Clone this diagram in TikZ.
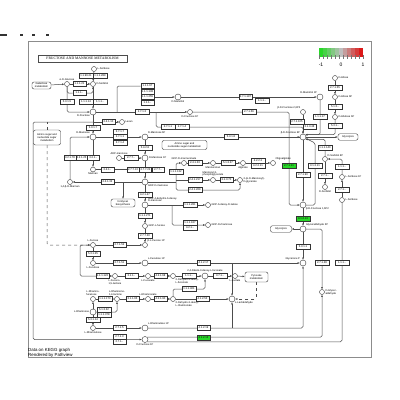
\documentclass[tikz,border=0pt]{standalone}
\usepackage{fontspec}
\setmainfont{Liberation Sans}
\newfontfamily\ttlfont{Liberation Serif}
\usetikzlibrary{positioning}
\usetikzlibrary{arrows.meta}
\usetikzlibrary{backgrounds}
\newcommand\ez{\fontsize{2.7}{3}\selectfont}
\newcommand\cz{\fontsize{2.6}{2.9}\selectfont}
\definecolor{kgreen}{RGB}{40,215,40}
\definecolor{kgrey}{RGB}{190,190,190}
\definecolor{kred}{RGB}{220,25,25}

\begin{document}
\begin{tikzpicture}[x=1pt,y=-1pt,>={Latex[length=2.2pt,width=2pt]},
	enz/.style={draw=black!80,fill=white,inner sep=0pt,minimum width=13.5pt,minimum height=4.8pt,font=\ez,line width=0.4pt},
	enzg/.style={enz,fill=kgreen},
	cpd/.style={circle,draw=black!80,fill=white,inner sep=0pt,minimum size=5pt,line width=0.4pt},
	hub/.style={cpd,minimum size=6pt},
	pbox/.style={draw=black!80,fill=white,rounded corners=2pt,font=\cz,align=center,inner sep=0.5pt,line width=0.4pt},
	lbl/.style={font=\cz,inner sep=0.6pt,align=left},
	rline/.style={draw=black!70,line width=0.5pt,rounded corners=1.5pt}]
	\useasboundingbox (0,0) rectangle (400,400);
	\foreach \a/\b in {0/7,20/23,32/35,46/49}
		\fill[black!80] (\a,34) rectangle (\b,36.2);
	
	\node (ttl) [draw=black!70,line width=0.4pt,minimum width=89pt,minimum height=7pt,inner sep=0pt,font={\ttlfont\fontsize{3.7}{4}\selectfont}] at (82.5,58.5) {FRUCTOSE AND MANNOSE METABOLISM};
	\foreach \i in {0,...,10} {
		\pgfmathtruncatemacro\p{abs(\i-5)*20}
		\ifnum\i<5 \def\cc{kgreen}\else\def\cc{kred}\fi
		\fill[fill=\cc!\p!kgrey] (319+4*\i,48) rectangle ++(4,9);
	}
	\foreach \i in {0,...,11}
		\draw[black!55,line width=0.2pt] (319+4*\i,55) -- ++(0,4);
	\node (lg1) [font=\fontsize{5}{5}\selectfont] at (321,64.5) {-1};
	\node (lg2) [font=\fontsize{5}{5}\selectfont] at (341,64.5) {0};
	\node (lg3) [font=\fontsize{5}{5}\selectfont] at (363,64.5) {1};
	\node (foot) [anchor=north west,align=left,inner sep=0pt,font=\fontsize{4.4}{4.8}\selectfont] at (28,348) {Data on KEGG graph\\Rendered by Pathview};
	
	\node (sorb) [cpd,label={[lbl]right:L-Sorbose}] at (94,69) {};
	\node (glc) [cpd,label={[lbl]above:α-D-Glucose}] at (67,84) {};
	\node (stol) [cpd,label={[lbl]right:D-Sorbitol}] at (93,84) {};
	\node (galm) [pbox,minimum width=19pt,minimum height=7pt] at (41.5,85.5) {Galactose\\metabolism};
	\node (fru) [hub,label={[lbl]below left:D-Fructose}] at (93,112) {};
	\node (levan) [cpd,label={[lbl]right:Levan}] at (122,122) {};
	\node (man) [hub,label={[lbl]above left:D-Mannose}] at (93,137) {};
	\node (mtol) [hub,label={[lbl]below:D-Mannitol}] at (178,97) {};
	\node (fru1p) [cpd,label={[lbl]below:D-Fructose 1P}] at (190,112) {};
	\node (mtol1p) [hub,label={[lbl]above left:D-Mannitol 1P}] at (320,97) {};
	\node (f26p) [cpd,label={[lbl]above left:{β-D-Fructose 2,6P2}}] at (303,112) {};
	\node (f6p) [hub,label={[lbl]above left:β-D-Fructose 6P}] at (303,137) {};
	\node (alo) [cpd,label={[lbl]right:D-Allose}] at (335,78) {};
	\node (alo6p) [cpd,label={[lbl]right:D-Allose 6P}] at (335,97) {};
	\node (alu6p) [cpd,label={[lbl]right:D-Allulose 6P}] at (335,117) {};
	\node (glyc1) [pbox,minimum width=20pt,minimum height=6.5pt] at (348,137) {Glycolysis};
	\node (man6p) [hub,label={[lbl]above right:D-Mannose 6P}] at (145,137) {};
	\node (amino1) [pbox,minimum width=27pt,minimum height=15pt] at (47,137.5) {Amino sugar and\\nucleotide sugar\\metabolism};
	\node (amino2) [pbox,minimum width=45pt,minimum height=9pt] at (184.5,145) {Amino sugar and\\nucleotide sugar metabolism};
	\node (man1p) [hub,label={[lbl]right:D-Mannose 1P}] at (145,158) {};
	\node (adpman) [cpd,label={[lbl]above:ADP-mannose}] at (119,158) {};
	\node (mannan) [cpd,label={[lbl]below:Mannan}] at (93,169.5) {};
	\node (bman) [cpd,label={[lbl]below:{1,4-β-D-Mannan}}] at (70,182) {};
	\node (gdpman) [hub,label={[lbl]below right:GDP-D-mannose}] at (145,182) {};
	\node (nglyc) [pbox,minimum width=24pt,minimum height=8pt] at (123,203) {N-Glycan\\biosynthesis};
	\node (gdpdh) [hub,label={[lbl]above right:{GDP-4-dehydro-6-deoxy-\\D-mannose}}] at (145,205) {};
	\node (gdptal) [cpd,label={[lbl]right:GDP-6-deoxy-D-talose}] at (208,205) {};
	\node (gdpfuc) [cpd,label={[lbl]right:GDP-L-fucose}] at (145,226) {};
	\node (gdprha) [cpd,label={[lbl]right:GDP-D-rhamnose}] at (208,225) {};
	\node (fuc1p) [cpd,label={[lbl]above right:β-L-Fucose 1P}] at (145,245) {};
	\node (gdpmna) [cpd,label={[lbl]above:GDP-D-mannuronate}] at (184,163) {};
	\node (mnan) [cpd,label={[lbl]below:Mannuronan}] at (213,163) {};
	\node (alg) [cpd,label={[lbl]below:Alginate}] at (243,163) {};
	\node (dehu) [cpd,label={[lbl]above right:Oligoalginate}] at (273,163) {};
	\node (mpg) [cpd,label={[lbl]above:{Mannosyl-3-\\phosphoglycerate}}] at (213,180) {};
	\node (mgly) [cpd,label={[lbl]right:{2-(α-D-Mannosyl)-\\D-glycerate}}] at (240,180) {};
	
	\node (f16p) [hub,label={[lbl]below right:{β-D-Fructose 1,6P2}}] at (303,205) {};
	\node (gap) [hub,label={[lbl]above right:Glyceraldehyde 3P}] at (303,229) {};
	\node (glyc2) [pbox,minimum width=21pt,minimum height=6.5pt] at (281,229) {Glycolysis};
	\node (dhap) [hub,label={[lbl]above left:Glycerone P}] at (303,263) {};
	\node (s6p) [cpd,label={[lbl]above right:D-Sorbitol 6P}] at (325,159) {};
	\node (stol2) [cpd,label={[lbl]below:D-Sorbitol}] at (325,187) {};
	\node (sorb1p) [cpd,label={[lbl]right:L-Sorbose 1P}] at (342,177) {};
	\node (sorb2) [cpd,label={[lbl]right:L-Sorbose}] at (342,200) {};
	\node (glyald) [cpd,label={[lbl]right:{D-Glycer-\\aldehyde}}] at (322,292) {};
	
	\node (fuc) [cpd,label={[lbl]above:L-Fucose}] at (93,245) {};
	\node (fucl) [cpd,label={[lbl]below:L-Fuculose}] at (93,263) {};
	\node (fucl1p) [hub,label={[lbl]above right:L-Fuculose 1P}] at (145,263) {};
	\node (fclac) [cpd,label={[lbl]below:{L-Fucono-\\1,5-lactone}}] at (115,276) {};
	\node (fcon) [cpd,label={[lbl]below:L-Fuconate}] at (148,276) {};
	\node (fdd) [cpd,label={[lbl]below right:{2-Dehydro-3-deoxy-\\L-fuconate}}] at (173,276) {};
	\node (dkf) [hub,label={[lbl]above:{2,4-Diketo-3-deoxy-L-fuconate}}] at (205,276) {};
	\node (lac) [cpd,label={[lbl]below:L-Lactate}] at (235,276) {};
	\node (pyr) [pbox,minimum width=23pt,minimum height=10pt] at (256.5,277) {Pyruvate\\metabolism};
	\node (rhaf) [cpd,label={[lbl]above:{L-Rhamno-\\furanose}}] at (93,299) {};
	\node (rlac) [cpd,label={[lbl]above:{L-Rhamnono-\\1,4-lactone}}] at (117,299) {};
	\node (rnat) [cpd,label={[lbl]above:L-Rhamnonate}] at (148,299) {};
	\node (rdd) [cpd,label={[lbl]below right:{2-Dehydro-3-deoxy-\\L-rhamnonate}}] at (173,299) {};
	\node (lald) [hub,label={[lbl]below right:L-Lactaldehyde}] at (232,299) {};
	\node (rha) [hub,label={[lbl]left:L-Rhamnose}] at (93,312) {};
	\node (rhul) [cpd,label={[lbl]below:L-Rhamnulose}] at (93,328) {};
	\node (rhul1p) [hub,label={[lbl]above right:L-Rhamnulose 1P}] at (145,328) {};
	\node (fru1pb) [hub,label={[lbl]below:D-Fructose 1P}] at (145,339.5) {};
	
	\node (e1) [enz] at (86,76) {1.1.99.21};
	\node (e2) [enz] at (100,76) {1.1.1.289};
	\node (e3) [enz] at (79.5,84) {1.1.1.21};
	\node (e4) [enz] at (79.5,93) {1.1.1.-};
	\node (e5) [enz] at (67,102) {5.3.1.5};
	\node (e6) [enz] at (86,102) {1.1.1.14};
	\node (e7) [enz] at (100,102) {1.1.1.-};
	\node (e8) [enz] at (147.5,86) {1.1.1.67};
	\node (e9) [enz] at (147.5,91.5) {1.1.1.138};
	\node (e10) [enz] at (147.5,97) {1.1.1.255};
	\node (e11) [enz] at (147.5,102.5) {1.1.1.-};
	\node (e12) [enz] at (142,112) {2.7.1.3};
	\node (e13) [enz] at (108.5,122) {2.4.1.10};
	\node (e14) [enz] at (93,127.5) {5.3.1.7};
	\node (e15) [enz] at (168,127) {2.7.1.1};
	\node (e16) [enz] at (182,127) {2.7.1.4};
	\node (e17) [enz] at (245.5,97) {2.7.1.197};
	\node (e18) [enz] at (262,101) {1.1.1.-};
	\node (e19) [enz] at (249,112) {2.7.1.56};
	\node (e20) [enz] at (297,121.5) {2.7.1.105};
	\node (e21) [enz] at (309.5,126.5) {3.1.3.46};
	\node (e22) [enz] at (231,137) {5.3.1.8};
	\node (e23) [enz] at (335,87.5) {2.7.1.55};
	\node (e24) [enz] at (335,107) {5.1.3.-};
	\node (e25) [enz] at (335,126) {5.3.1.-};
	\node (e26) [enz] at (320,117) {1.1.1.17};
	\node (e27) [enz] at (120,131.6) {2.7.1.7};
	\node (e28) [enz] at (120,137) {2.7.1.1};
	\node (e29) [enz] at (120,142.4) {2.7.1.4};
	\node (e30) [enz] at (145,147.5) {5.4.2.8};
	\node (e31) [enz] at (131,158) {2.7.7.-};
	\node (e32) [enz,minimum width=12pt] at (133,169.5) {2.7.7.13};
	\node (e33) [enz,minimum width=12pt] at (145.5,169.5) {2.7.7.22};
	\node (e34) [enz,minimum width=12pt] at (158,169.5) {2.7.7.-};
	\node (e35) [enz] at (107.5,169.5) {2.4.1.-};
	\node (e36) [enz] at (107.5,182) {2.4.1.32};
	\node (e37) [enz,minimum width=11.5pt] at (70,158) {3.2.1.78};
	\node (e38) [enz,minimum width=11.5pt] at (81.6,158) {3.2.1.25};
	\node (e39) [enz,minimum width=11.5pt] at (93.2,158) {3.2.1.-};
	\node (e40) [enz] at (145,195) {4.2.1.47};
	\node (e41) [enz] at (145,215.5) {1.1.1.271};
	\node (e42) [enz] at (145,235.5) {2.7.7.30};
	\node (e43) [enz] at (190,205) {1.1.1.281};
	\node (e44) [enz] at (190,222.6) {1.1.1.187};
	\node (e45) [enz] at (190,227.4) {4.2.1.-};
	\node (e46) [enz] at (176,172) {1.1.1.132};
	\node (e47) [enz] at (195,163) {2.4.1.33};
	\node (e48) [enz] at (228,163) {5.1.3.37};
	\node (e49) [enz] at (258,160.6) {4.2.2.3};
	\node (e50) [enz] at (258,165.4) {4.2.2.11};
	\node (e51) [enz] at (195,180) {2.4.1.217};
	\node (e52) [enz] at (195,190) {2.4.1.269};
	\node (e53) [enz] at (226.5,180) {3.1.3.70};
	\node (e54) [enzg] at (289,166) {2.7.1.11};
	\node (e55) [enz] at (303,175) {2.7.1.90};
	\node (e56) [enz] at (315,166) {3.1.3.11};
	\node (e57) [enz] at (325,148) {1.1.1.140};
	\node (e58) [enz] at (325,175.5) {2.7.1.-};
	\node (e59) [enz] at (342,167) {1.1.1.-};
	\node (e60) [enz] at (342,190) {2.7.1.-};
	\node (e61) [enzg] at (303,219) {4.1.2.13};
	\node (e62) [enz] at (303,246.5) {5.3.1.1};
	\node (e63) [enz] at (322,263) {2.7.1.28};
	\node (e64) [enz] at (342,263) {1.1.1.-};
	\node (e65) [enz] at (119.5,245) {2.7.1.52};
	\node (e66) [enz] at (93,254) {5.3.1.25};
	\node (e67) [enz] at (119.5,263) {2.7.1.51};
	\node (e68) [enz] at (102.5,276) {1.1.1.122};
	\node (e69) [enz] at (131.5,276) {3.1.1.-};
	\node (e70) [enz] at (160.5,276) {4.2.1.68};
	\node (e71) [enz] at (189,276) {1.1.1.-};
	\node (e72) [enz] at (220,276) {3.7.1.-};
	\node (e73) [enz] at (189,289) {1.1.1.401};
	\node (e74) [enz] at (105,299) {1.1.1.173};
	\node (e75) [enz] at (132.5,299) {3.1.1.65};
	\node (e76) [enz] at (160.5,299) {4.2.1.90};
	\node (e77) [enz] at (202.5,299) {4.1.2.53};
	\node (e78) [enz] at (104,309.5) {5.1.3.32};
	\node (e79) [enz] at (104,314.5) {1.1.1.378};
	\node (e80) [enz] at (93,320) {5.3.1.14};
	\node (e81) [enz] at (119.5,328) {2.7.1.5};
	\node (e82) [enz] at (119.5,337) {2.7.1.3};
	\node (e83) [enz] at (119.5,342) {2.7.1.-};
	\node (e84) [enz] at (203.5,263) {4.1.2.17};
	\node (e85) [enz] at (203.5,328) {4.1.2.19};
	\node (e86) [enzg] at (203.5,337.4) {4.1.2.13};
	
	\coordinate (j1) at (117,112);
	\coordinate (j1b) at (156,112);
	\coordinate (j3) at (303,127);
	\coordinate (j4) at (289,112);
	\coordinate (j6) at (289,137);
	\coordinate (j8) at (315,143);
	\coordinate (j11) at (93,122);
	\coordinate (j12) at (33,339.5);
	\coordinate (j13) at (47,122);
	\coordinate (j14) at (123,182);
	\coordinate (j15) at (172,205);
	\coordinate (j16) at (176,182);
	\coordinate (j17) at (176,180);
	\coordinate (j19) at (80,276);
	\coordinate (j20) at (232,263);
	\coordinate (j21) at (232,328);
	
	\begin{scope}[on background layer]
		\draw[black!45,line width=0.5pt] (28,41) rectangle (371,357);
		\draw[rline,->] (sorb) -- (stol);
		\draw[rline,->] (glc) -- (stol);
		\draw[rline] (glc) |- (e4);
		\draw[rline,->] (e4) -| (stol);
		\draw[rline,->] (glc) |- (fru);
		\draw[rline,->] (stol) -- (fru);
		\draw[rline,->] (galm) -- (glc);
		\draw[rline,->] (fru) -- (fru1p);
		\draw[rline] (j1) |- (e8);
		\draw[rline,->] (e10) -- (mtol);
		\draw[rline,->] (j1b) |- (j3) -- (f6p);
		\draw[rline,->] (mtol) -- (mtol1p);
		\draw[rline,->] (fru1p) -- (j4) |- (f16p);
		\draw[rline] (f6p) -- (j6);
		\draw[rline,->] (f6p) -- (f16p);
		\draw[rline,->] (f16p) -| (j8) -- (f6p);
		\draw[rline,->] (f26p) -- (f6p);
		\draw[rline,->] (man6p) -- (f6p);
		\draw[rline,->] (f6p) -- (glyc1);
		\draw[rline,->] (mtol1p) |- (f6p.north east);
		\draw[rline,->] (alo) -- (alo6p);
		\draw[rline,->] (alo6p) -- (alu6p);
		\draw[rline,->] (alu6p) |- (f6p.north east);
		\draw[rline,->] (s6p) |- (f6p.south east);
		\draw[rline,->] (s6p) -- (stol2);
		\draw[rline,->] (sorb1p) |- (s6p);
		\draw[rline,->] (sorb2) -- (sorb1p);
		\draw[rline,->] (f16p) -- (gap);
		\draw[rline,->] (gap) -- (dhap);
		\draw[rline,->] (gap) -- (glyc2);
		\draw[rline,->] (gap) -| (glyald);
		\draw[rline,->] (fru1pb.north east) -| (glyald);
		\draw[rline] (fru1pb.south east) -| (sorb2);
		\draw[rline,->] (j11) -| (j12) -- (fru1pb);
		\draw[rline,dashed] (amino1) -- (j13);
		\draw[rline,->] (j11) -- (levan);
		\draw[rline,->] (fru) -- (man);
		\draw[rline,->] (man) -- (man6p);
		\draw[rline,->] (man6p) -- (man1p);
		\draw[rline,->] (adpman) -- (man1p);
		\draw[rline,->] (man1p) -- (gdpman);
		\draw[rline,->] (man) -- (mannan);
		\draw[rline] (mannan) -- (e32);
		\draw[rline,->] (gdpman) -- (bman);
		\draw[rline,->] (bman) |- (man);
		\draw[rline,->] (j14) -- (nglyc);
		\draw[rline,->] (gdpman) -- (gdpdh);
		\draw[rline,->] (gdpdh) -- (gdpfuc);
		\draw[rline,->] (gdpfuc) -- (fuc1p);
		\draw[rline,->] (gdpdh) -- (gdptal);
		\draw[rline,->] (j15) |- (gdprha);
		\draw[rline] (gdpman) -- (j16);
		\draw[rline,->] (j16) |- (gdpmna);
		\draw[rline,->] (gdpmna) -- (mnan);
		\draw[rline,->] (mnan) -- (alg);
		\draw[rline,->] (alg) -- (dehu);
		\draw[rline,->] (j17) -- (mpg);
		\draw[rline,->] (mpg) -- (mgly);
		\draw[rline,->] (j16) |- (e52) -| (mgly);
		\draw[rline,dashed,->] (amino1) |- (fuc);
		\draw[rline,->] (fuc) -- (fuc1p);
		\draw[rline,->] (fuc) -- (fucl);
		\draw[rline,->] (fucl) -- (fucl1p);
		\draw[rline,->] (fuc) -| (j19) -- (fclac);
		\draw[rline,->] (fclac) -- (fcon);
		\draw[rline,->] (fcon) -- (fdd);
		\draw[rline,->] (fdd) -- (dkf);
		\draw[rline,->] (dkf) -- (lac);
		\draw[rline,->] (lac) -- (pyr);
		\draw[rline,->] (rdd) |- (e73) -| (dkf);
		\draw[rline,->] (fucl1p) -- (dhap);
		\draw[rline,->] (j20) -- (lald);
		\draw[rline,dashed,->] (pyr) |- (lald);
		\draw[rline,->] (rhaf) -- (rlac);
		\draw[rline,->] (rlac) -- (rnat);
		\draw[rline,->] (rnat) -- (rdd);
		\draw[rline,->] (rdd) -- (lald);
		\draw[rline,->] (rha) -- (rhaf);
		\draw[rline,->] (rha) -| (rlac);
		\draw[rline,->] (rha) -- (rhul);
		\draw[rline,->] (rhul) -- (rhul1p);
		\draw[rline,->] (rhul1p) -| (dhap);
		\draw[rline,->] (j21) -- (lald);
	\end{scope}
\end{tikzpicture}
\end{document}
